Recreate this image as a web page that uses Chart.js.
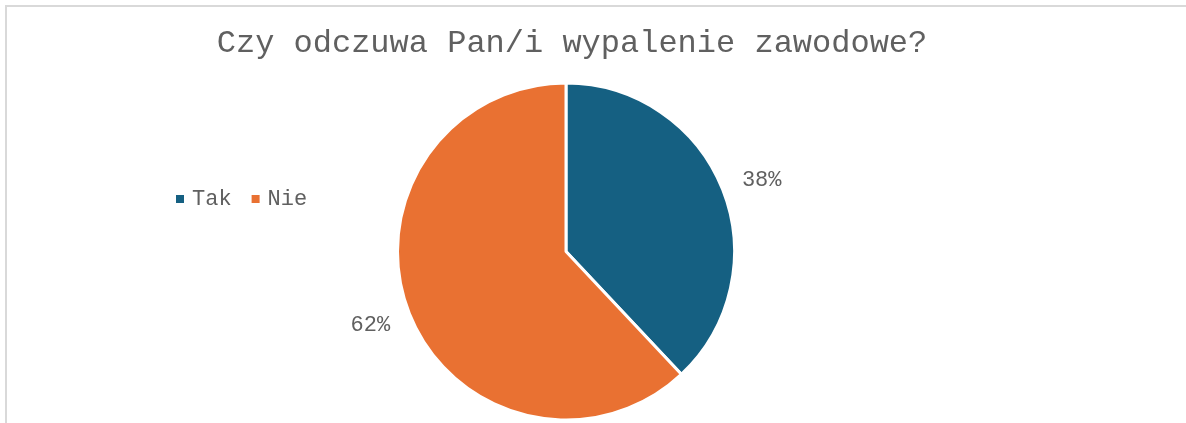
<!DOCTYPE html>
<html>
<head>
<meta charset="utf-8">
<script src="https://cdn.jsdelivr.net/npm/chart.js@4/dist/chart.umd.min.js"></script>
<style>
  html, body { margin: 0; padding: 0; background: #fff; }
  #wrap { position: relative; width: 1186px; height: 423px; overflow: hidden; }
  #frame { position: absolute; left: 5px; top: 5px; right: 0; bottom: -10px;
           border-top: 2px solid #d9d9d9; border-left: 2px solid #d9d9d9; }
  #myChart { position: absolute; left: 0; top: 0; }
</style>
</head>
<body>
<div id="wrap">
  <div id="frame"></div>
  <canvas id="myChart" width="1186" height="423"></canvas>
</div>
<script>
const titleText = "Czy odczuwa Pan/i wypalenie zawodowe?";
const labels = ["Tak", "Nie"];
const values = [38, 62];
const colors = ["#156082", "#E97132"];

const fontFamily = "'Liberation Mono', 'Courier New', monospace";
const textColor = "#606060";

// title, sitting a little right of the pie centre
const headline = {
  id: "headline",
  afterDraw(chart) {
    const ctx = chart.ctx;
    ctx.save();
    ctx.font = "32px " + fontFamily;
    ctx.fillStyle = textColor;
    ctx.textAlign = "center";
    ctx.textBaseline = "alphabetic";
    ctx.fillText(titleText, 572, 52);
    ctx.restore();
  },
};

// legend row drawn on the left, markers + names in one line
const rowLegend = {
  id: "rowLegend",
  afterDraw(chart) {
    const ctx = chart.ctx;
    const ds = chart.data.datasets[0];
    ctx.save();
    ctx.font = "22px " + fontFamily;
    ctx.textBaseline = "alphabetic";
    ctx.textAlign = "left";
    var x = 176;
    const y = 205;
    for (var i = 0; i < chart.data.labels.length; i++) {
      ctx.fillStyle = ds.backgroundColor[i];
      ctx.fillRect(x, 195, 8, 8);
      ctx.fillStyle = textColor;
      ctx.fillText(chart.data.labels[i], x + 16, y);
      x += 16 + ctx.measureText(chart.data.labels[i]).width + 20;
    }
    ctx.restore();
  },
};

// percentage labels outside each slice
const pctLabels = {
  id: "pctLabels",
  afterDatasetsDraw(chart) {
    const ctx = chart.ctx;
    const meta = chart.getDatasetMeta(0);
    const data = chart.data.datasets[0].data;
    const total = data.reduce((a, b) => a + b, 0);
    ctx.save();
    ctx.font = "22px " + fontFamily;
    ctx.fillStyle = textColor;
    ctx.textAlign = "center";
    ctx.textBaseline = "alphabetic";
    meta.data.forEach((arc, i) => {
      const p = arc.getProps(["x", "y", "startAngle", "endAngle", "outerRadius"], true);
      const mid = (p.startAngle + p.endAngle) / 2;
      const r = p.outerRadius + 42;
      const cx = p.x + Math.cos(mid) * r;
      const cy = p.y + Math.sin(mid) * r * 0.935;
      ctx.fillText(Math.round((data[i] / total) * 100) + "%", cx, cy + 7);
    });
    ctx.restore();
  },
};

const config = {
  type: "pie",
  data: {
    labels: labels,
    datasets: [
      {
        data: values,
        backgroundColor: colors,
        borderColor: "#ffffff",
        borderWidth: 3,
      },
    ],
  },
  options: {
    responsive: false,
    animation: false,
    layout: {
      padding: { left: 0, right: 54, top: 81.5, bottom: 1.5 },
    },
    plugins: {
      legend: { display: false },
      tooltip: { enabled: false },
      title: { display: false },
    },
  },
  plugins: [headline, rowLegend, pctLabels],
};

new Chart(document.getElementById("myChart"), config);
</script>
</body>
</html>
